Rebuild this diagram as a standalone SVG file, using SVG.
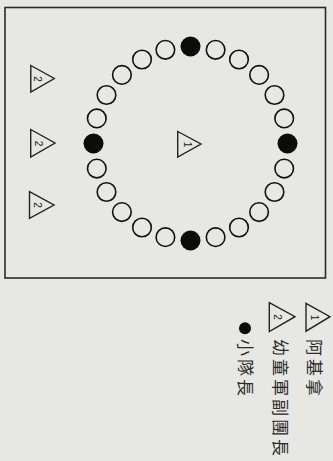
<svg xmlns="http://www.w3.org/2000/svg" width="333" height="461" viewBox="0 0 333 461">
<style>
.bg{fill:#e7e7e4}
.frame{fill:none;stroke:#2a2a2a;stroke-width:1.6}
.tri{fill:none;stroke:#222;stroke-width:1.4;stroke-linejoin:miter}
.open{fill:none;stroke:#111;stroke-width:1.6}
.dot{fill:#0c0c0c}
.num{font-family:"Liberation Sans",Arial,sans-serif;font-size:10px;fill:#222;text-anchor:middle}
.lbl{font-family:"Noto Sans CJK TC","Noto Sans CJK SC",sans-serif;font-size:17px;fill:#2a2a2a;letter-spacing:3px}
</style>
<rect class="bg" x="0" y="0" width="333" height="461"/>
<rect class="frame" x="5" y="7.5" width="320.5" height="270.5"/>

<g id="ring">
<circle class="dot" cx="190.5" cy="46.5" r="10"/>
<circle class="open" cx="215.6" cy="49.8" r="9.3"/>
<circle class="open" cx="239" cy="59.5" r="9.3"/>
<circle class="open" cx="259.1" cy="74.9" r="9.3"/>
<circle class="open" cx="274.5" cy="95" r="9.3"/>
<circle class="open" cx="284.2" cy="118.4" r="9.3"/>
<circle class="dot" cx="287.5" cy="143.5" r="10"/>
<circle class="open" cx="284.2" cy="168.6" r="9.3"/>
<circle class="open" cx="274.5" cy="192" r="9.3"/>
<circle class="open" cx="259.1" cy="212.1" r="9.3"/>
<circle class="open" cx="239" cy="227.5" r="9.3"/>
<circle class="open" cx="215.6" cy="237.2" r="9.3"/>
<circle class="dot" cx="190.5" cy="240.5" r="10"/>
<circle class="open" cx="165.4" cy="237.2" r="9.3"/>
<circle class="open" cx="142" cy="227.5" r="9.3"/>
<circle class="open" cx="121.9" cy="212.1" r="9.3"/>
<circle class="open" cx="106.5" cy="192" r="9.3"/>
<circle class="open" cx="96.8" cy="168.6" r="9.3"/>
<circle class="dot" cx="93.5" cy="143.5" r="10"/>
<circle class="open" cx="96.8" cy="118.4" r="9.3"/>
<circle class="open" cx="106.5" cy="95" r="9.3"/>
<circle class="open" cx="121.9" cy="74.9" r="9.3"/>
<circle class="open" cx="142" cy="59.5" r="9.3"/>
<circle class="open" cx="165.4" cy="49.8" r="9.3"/>
</g>

<g id="leader">
<polygon class="tri" points="177.7,131.5 201,144 177.7,157"/>
<text class="num" transform="translate(183.8,144.5) rotate(90)">1</text>
</g>

<g id="asst1">
<polygon class="tri" points="30.8,65.5 54.3,78.5 30.8,92"/>
<text class="num" transform="translate(34.3,79) rotate(90)">2</text>
</g>
<g id="asst2">
<polygon class="tri" points="30.7,129.5 55,143 30.7,157"/>
<text class="num" transform="translate(34.5,143.5) rotate(90)">2</text>
</g>
<g id="asst3">
<polygon class="tri" points="29.5,191.7 54,205 29.5,218.3"/>
<text class="num" transform="translate(34,205) rotate(90)">2</text>
</g>

<g id="legend">
<polygon class="tri" points="306,303.3 330,316.7 306,331.2"/>
<text class="num" transform="translate(310.5,317.5) rotate(90)">1</text>
<polygon class="tri" points="269.3,302.7 295,316.7 269.3,331.5"/>
<text class="num" transform="translate(273.5,317) rotate(90)">2</text>
<circle class="dot" cx="245" cy="328.3" r="6"/>
<text class="lbl" transform="translate(308,339) rotate(90)">阿基拿</text>
<text class="lbl" transform="translate(273.5,339) rotate(90)">幼童軍副團長</text>
<text class="lbl" transform="translate(238.5,339) rotate(90)">小隊長</text>
</g>
</svg>
